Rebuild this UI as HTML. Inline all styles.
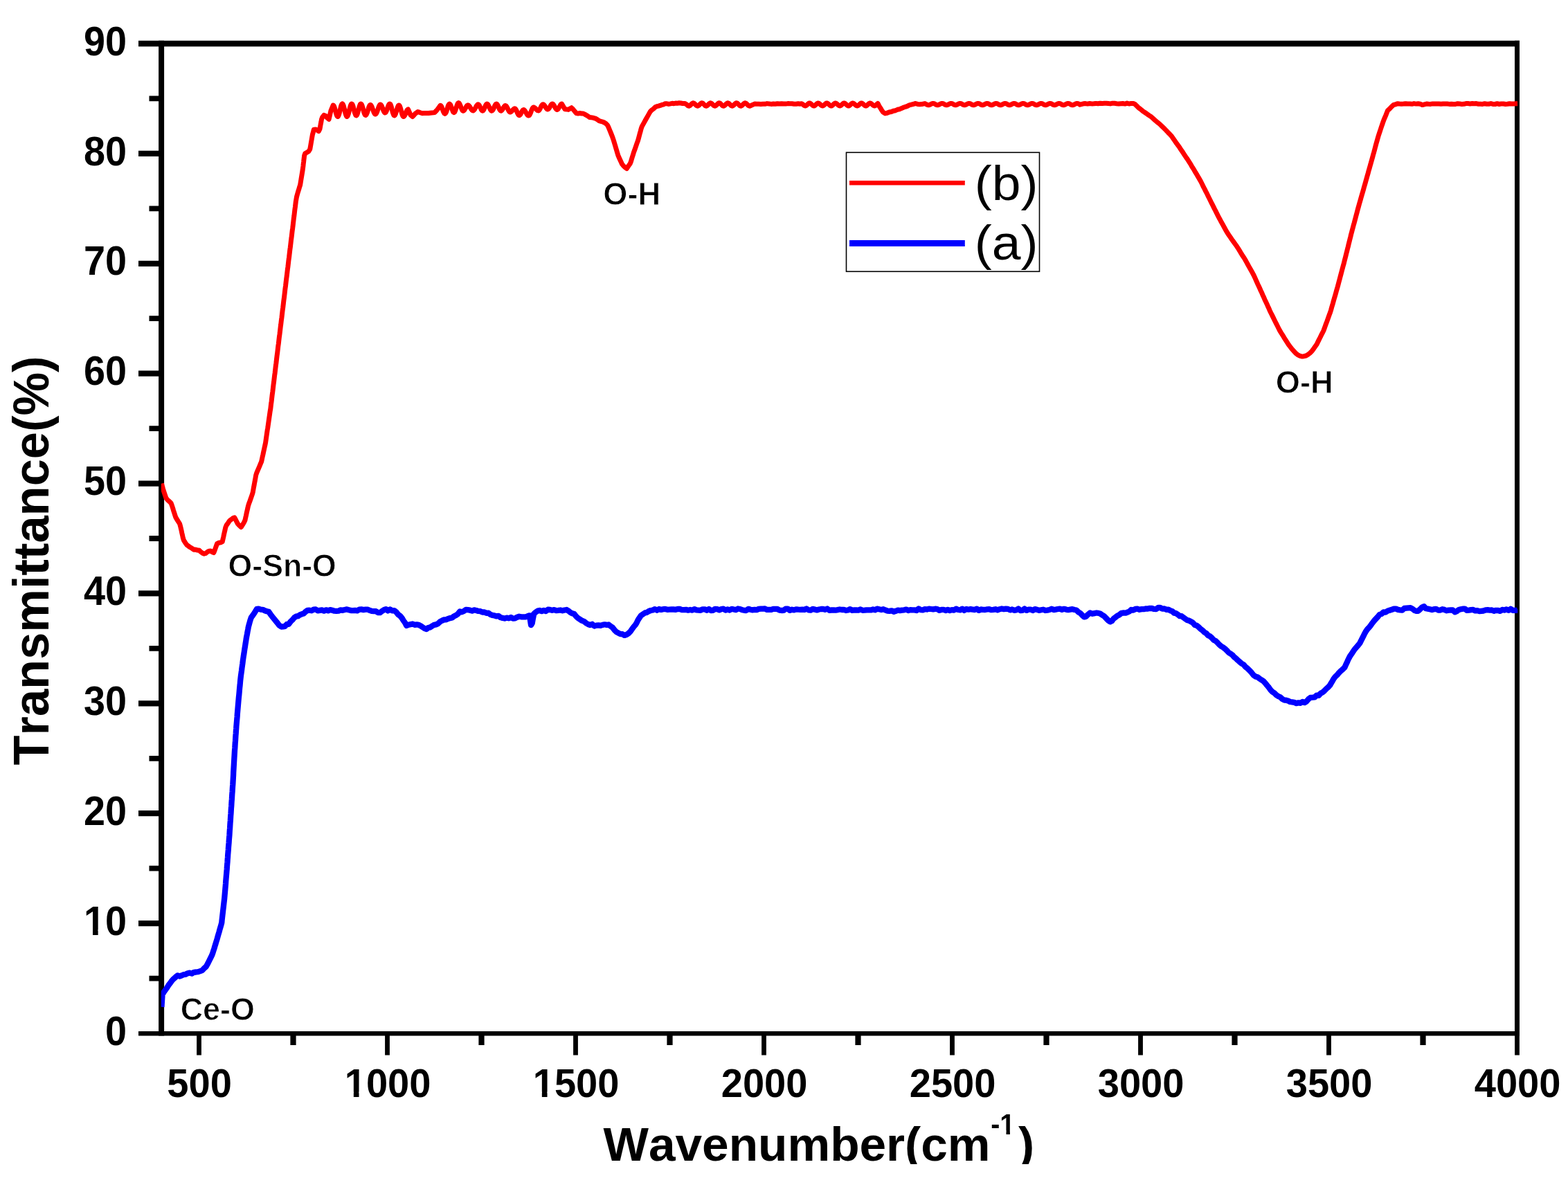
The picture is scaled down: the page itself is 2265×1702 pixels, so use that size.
<!DOCTYPE html>
<html lang="en"><head><meta charset="utf-8"><title>FTIR spectra</title>
<style>html,body{margin:0;padding:0;background:#fff}body{width:2265px;height:1702px;overflow:hidden}svg{display:block}text{font-kerning:none;font-family:"Liberation Sans",Arial,Helvetica,sans-serif;fill:#000}.b{font-weight:bold}</style></head><body>
<svg width="2265" height="1702" viewBox="0 0 2265 1702">
<rect width="2265" height="1702" fill="#fff"/>
<g stroke="#000" fill="none" stroke-linecap="butt">
<path d="M200.0 63.0 H2195.0" stroke-width="8.5"/>
<path d="M200.0 1493.3 H2195.0" stroke-width="6.6"/>
<path d="M233.1 58.8 V1496.6" stroke-width="8.0"/>
<path d="M2191.5 58.8 V1496.6" stroke-width="7.0"/>
<path d="M200.0 1334.1 H233.1 M200.0 1175.2 H233.1 M200.0 1016.3 H233.1 M200.0 857.4 H233.1 M200.0 698.6 H233.1 M200.0 539.7 H233.1 M200.0 380.8 H233.1 M200.0 221.9 H233.1" stroke-width="8.3"/>
<path d="M215.5 1413.6 H233.1 M215.5 1254.7 H233.1 M215.5 1095.8 H233.1 M215.5 936.9 H233.1 M215.5 778.0 H233.1 M215.5 619.1 H233.1 M215.5 460.2 H233.1 M215.5 301.3 H233.1 M215.5 142.4 H233.1" stroke-width="7.8"/>
<path d="M287.5 1493.0 V1524.5 M559.5 1493.0 V1524.5 M831.5 1493.0 V1524.5 M1103.5 1493.0 V1524.5 M1375.5 1493.0 V1524.5 M1647.5 1493.0 V1524.5 M1919.5 1493.0 V1524.5 M2191.5 1493.0 V1524.5" stroke-width="6.8"/>
<path d="M423.5 1493.0 V1510.0 M695.5 1493.0 V1510.0 M967.5 1493.0 V1510.0 M1239.5 1493.0 V1510.0 M1511.5 1493.0 V1510.0 M1783.5 1493.0 V1510.0 M2055.5 1493.0 V1510.0" stroke-width="8.2"/>
</g>
<g class="b" font-size="59.0" text-anchor="end">
<text transform="translate(183.0 1509.6) scale(0.945 1)">0</text>
<text transform="translate(183.0 1350.7) scale(0.945 1)">10</text>
<text transform="translate(183.0 1191.8) scale(0.945 1)">20</text>
<text transform="translate(183.0 1032.9) scale(0.945 1)">30</text>
<text transform="translate(183.0 874.0) scale(0.945 1)">40</text>
<text transform="translate(183.0 715.2) scale(0.945 1)">50</text>
<text transform="translate(183.0 556.3) scale(0.945 1)">60</text>
<text transform="translate(183.0 397.4) scale(0.945 1)">70</text>
<text transform="translate(183.0 238.5) scale(0.945 1)">80</text>
<text transform="translate(183.0 79.6) scale(0.945 1)">90</text>
</g>
<g class="b" font-size="57.5" text-anchor="middle">
<text transform="translate(288.1 1584.9) scale(0.975 1)">500</text>
<text transform="translate(560.1 1584.9) scale(0.975 1)">1000</text>
<text transform="translate(832.1 1584.9) scale(0.975 1)">1500</text>
<text transform="translate(1104.1 1584.9) scale(0.975 1)">2000</text>
<text transform="translate(1376.1 1584.9) scale(0.975 1)">2500</text>
<text transform="translate(1648.1 1584.9) scale(0.975 1)">3000</text>
<text transform="translate(1920.1 1584.9) scale(0.975 1)">3500</text>
<text transform="translate(2192.1 1584.9) scale(0.975 1)">4000</text>
</g>
<defs><clipPath id="cp"><rect x="232.8" y="0" width="1959.4" height="1702"/></clipPath></defs>
<g clip-path="url(#cp)" fill="none" stroke-linejoin="round" stroke-linecap="butt">
<path d="M233.4 698.7 L234.4 702.5 L235.4 706.0 L236.5 709.5 L237.6 712.8 L238.7 716.1 L239.8 719.4 L242.1 722.3 L244.6 724.5 L247.1 727.0 L248.4 730.5 L249.5 733.8 L250.5 737.3 L251.6 740.7 L252.7 744.1 L253.8 747.4 L255.7 750.6 L257.6 753.7 L259.5 756.6 L260.5 760.0 L261.3 763.4 L262.1 766.8 L262.8 770.2 L263.6 773.6 L264.3 777.1 L265.3 780.3 L267.5 783.9 L269.7 787.1 L272.2 789.0 L274.8 790.8 L277.4 792.3 L280.0 794.2 L282.5 794.0 L285.0 794.9 L287.5 794.9 L289.9 797.2 L292.3 799.0 L294.7 800.2 L297.1 799.5 L299.4 797.6 L301.7 796.2 L304.3 796.0 L306.5 797.5 L308.8 798.6 L310.0 795.4 L311.2 792.1 L312.4 788.8 L313.6 785.5 L316.2 784.3 L318.8 783.8 L321.2 782.6 L322.0 779.1 L322.8 775.7 L323.5 772.3 L324.3 768.8 L325.1 765.4 L325.8 762.0 L327.1 758.9 L329.5 755.6 L331.9 752.1 L334.3 750.4 L336.5 748.6 L338.8 747.8 L340.3 750.7 L341.9 753.8 L343.5 756.9 L345.8 759.3 L348.3 761.5 L350.8 757.6 L352.5 754.8 L354.0 751.5 L354.7 748.1 L355.5 744.7 L356.2 741.3 L357.0 737.8 L357.8 734.4 L358.5 731.0 L359.6 727.6 L360.8 724.4 L362.0 721.0 L363.1 717.8 L364.3 714.4 L365.3 711.0 L365.9 707.5 L366.5 704.0 L367.2 700.5 L367.8 697.0 L368.5 693.5 L369.1 690.0 L369.7 686.5 L370.8 683.2 L372.2 679.9 L373.6 676.6 L374.9 673.6 L376.3 670.2 L377.6 667.1 L378.4 663.6 L379.1 660.1 L379.9 656.7 L380.6 653.3 L381.4 649.8 L382.1 646.4 L382.9 642.9 L383.6 639.5 L384.1 636.0 L384.6 632.5 L385.1 629.0 L385.6 625.5 L386.1 622.0 L386.7 618.5 L387.2 615.1 L387.7 611.6 L388.2 608.1 L388.7 604.6 L389.2 601.1 L389.7 597.6 L390.2 594.1 L390.8 590.6 L391.2 587.1 L391.6 583.6 L392.1 580.2 L392.5 576.7 L392.9 573.2 L393.3 569.7 L393.8 566.2 L394.2 562.8 L394.6 559.3 L395.0 555.8 L395.5 552.3 L395.9 548.9 L396.3 545.4 L396.7 541.9 L397.2 538.4 L397.6 534.9 L398.0 531.4 L398.4 528.0 L398.9 524.5 L399.3 521.0 L399.7 517.5 L400.1 514.1 L400.6 510.6 L401.0 507.1 L401.4 503.6 L401.8 500.1 L402.3 496.7 L402.7 493.2 L403.1 489.7 L403.5 486.2 L404.0 482.7 L404.4 479.3 L404.8 475.8 L405.2 472.3 L405.7 468.8 L406.1 465.3 L406.5 461.9 L407.0 458.4 L407.4 454.9 L407.8 451.4 L408.2 447.9 L408.7 444.5 L409.1 441.0 L409.5 437.5 L409.9 434.0 L410.4 430.6 L410.8 427.1 L411.2 423.6 L411.6 420.1 L412.0 416.7 L412.5 413.2 L412.9 409.7 L413.3 406.2 L413.7 402.8 L414.2 399.3 L414.6 395.8 L415.0 392.3 L415.4 388.8 L415.9 385.4 L416.3 381.9 L416.7 378.4 L417.1 374.9 L417.6 371.5 L418.0 368.0 L418.4 364.5 L418.8 361.0 L419.3 357.5 L419.7 354.1 L420.1 350.6 L420.5 347.1 L421.0 343.6 L421.4 340.2 L421.8 336.7 L422.2 333.2 L422.7 329.7 L423.1 326.3 L423.5 322.8 L423.9 319.3 L424.3 315.8 L424.8 312.3 L425.2 308.9 L425.6 305.4 L426.0 301.9 L426.5 298.4 L426.9 295.0 L427.3 291.5 L427.9 288.0 L428.5 284.5 L429.4 281.1 L430.4 277.6 L431.5 274.2 L432.5 270.7 L433.6 267.3 L434.1 264.3 L434.6 261.2 L435.1 258.2 L435.6 255.2 L436.1 252.2 L436.6 249.1 L437.1 246.1 L437.5 243.1 L437.9 240.1 L438.2 237.1 L438.6 234.1 L438.9 231.0 L439.3 228.0 L439.6 225.0 L440.7 221.8 L443.3 220.3 L445.8 218.8 L447.8 215.4 L448.4 212.0 L449.0 208.5 L449.6 205.0 L450.2 201.5 L450.8 198.0 L451.4 194.5 L452.4 191.0 L453.3 187.2 L456.0 186.9 L458.2 188.1 L460.4 189.6 L461.9 186.5 L462.6 183.0 L463.2 179.5 L463.9 176.0 L464.5 172.5 L465.8 169.1 L468.0 166.4 L470.5 167.5 L472.9 170.6 L475.1 172.3 L476.0 168.5 L476.8 165.0 L477.6 161.5 L478.0 159.8 L481.2 152.0 L482.1 152.6 L482.9 154.4 L483.7 157.1 L484.6 160.2 L485.4 163.4 L486.2 166.1 L487.0 167.9 L487.9 168.5 L488.7 167.8 L489.5 165.8 L490.4 162.8 L491.2 159.2 L492.0 155.7 L492.8 152.7 L493.7 150.7 L494.5 150.0 L495.3 150.7 L496.2 152.7 L497.0 155.7 L497.9 159.2 L498.7 162.8 L499.6 165.8 L500.4 167.8 L501.2 168.5 L502.1 167.8 L502.9 165.8 L503.8 162.8 L504.6 159.2 L505.5 155.7 L506.3 152.7 L507.2 150.7 L508.0 150.0 L508.8 150.6 L509.7 152.5 L510.5 155.2 L511.3 158.5 L512.1 161.8 L513.0 164.5 L513.8 166.4 L514.6 167.0 L515.5 166.4 L516.3 164.5 L517.1 161.8 L517.9 158.5 L518.8 155.2 L519.6 152.5 L520.4 150.6 L521.2 150.0 L522.1 150.6 L523.0 152.4 L523.8 155.1 L524.7 158.2 L525.5 161.4 L526.4 164.1 L527.3 165.9 L528.1 166.5 L529.0 165.9 L529.8 164.3 L530.7 161.9 L531.6 159.0 L532.4 156.1 L533.3 153.7 L534.1 152.1 L535.0 151.5 L535.8 151.9 L536.6 153.1 L537.4 154.9 L538.2 157.1 L539.0 159.4 L539.8 161.6 L540.6 163.4 L541.4 164.6 L542.2 165.0 L543.1 164.6 L543.9 163.4 L544.7 161.5 L545.5 159.2 L546.3 156.8 L547.1 154.5 L547.9 152.6 L548.7 151.4 L549.5 151.0 L550.3 151.5 L551.2 152.8 L552.0 154.7 L552.9 157.0 L553.7 159.3 L554.6 161.2 L555.4 162.5 L556.2 163.0 L557.1 162.5 L557.9 161.1 L558.8 159.0 L559.6 156.5 L560.5 154.0 L561.3 151.9 L562.2 150.5 L563.0 150.0 L563.8 150.6 L564.7 152.5 L565.5 155.2 L566.3 158.5 L567.1 161.8 L568.0 164.5 L568.8 166.4 L569.6 167.0 L570.5 166.4 L571.3 164.8 L572.1 162.4 L572.9 159.5 L573.8 156.6 L574.6 154.2 L575.4 152.6 L576.2 152.0 L577.1 152.6 L577.9 154.4 L578.7 157.1 L579.6 160.2 L580.4 163.4 L581.2 166.1 L582.0 167.9 L582.9 168.5 L583.7 168.1 L584.5 167.0 L585.4 165.3 L586.2 163.2 L587.0 161.2 L587.8 159.5 L588.7 158.4 L589.5 158.0 L593.0 166.0 L596.0 168.5 L597.3 167.0 L598.7 165.5 L600.0 164.0 L601.8 162.8 L603.5 161.5 L605.7 162.2 L607.8 163.0 L610.0 163.7 L612.2 163.6 L614.5 163.6 L616.8 163.6 L619.0 163.5 L621.2 163.2 L623.5 163.0 L625.8 162.8 L628.0 162.5 L629.3 161.0 L630.7 159.5 L632.0 158.0 L636.1 152.3 L636.9 152.8 L637.8 154.1 L638.6 156.0 L639.4 158.3 L640.2 160.7 L641.1 162.6 L641.9 163.9 L642.7 164.4 L643.5 163.9 L644.4 162.3 L645.2 160.0 L646.0 157.2 L646.8 154.5 L647.6 152.2 L648.5 150.6 L649.3 150.1 L650.1 150.6 L650.9 151.9 L651.7 154.0 L652.5 156.3 L653.4 158.7 L654.2 160.8 L655.0 162.1 L655.8 162.6 L656.6 162.1 L657.4 160.5 L658.2 158.3 L659.0 155.6 L659.9 152.9 L660.7 150.7 L661.5 149.1 L662.3 148.6 L663.1 149.0 L664.0 150.3 L664.8 152.2 L665.7 154.4 L666.5 156.6 L667.4 158.5 L668.2 159.8 L669.1 160.2 L669.9 159.9 L670.8 159.0 L671.6 157.6 L672.5 156.1 L673.3 154.5 L674.2 153.1 L675.0 152.2 L675.9 151.9 L676.7 152.1 L677.5 152.8 L678.4 153.9 L679.2 155.2 L680.0 156.6 L680.8 157.9 L681.7 159.0 L682.5 159.7 L683.3 159.9 L684.1 159.6 L684.9 158.8 L685.8 157.6 L686.6 156.1 L687.4 154.6 L688.2 153.1 L689.1 151.9 L689.9 151.1 L690.7 150.8 L691.6 151.3 L692.5 152.6 L693.4 154.5 L694.4 156.5 L695.3 158.4 L696.2 159.7 L697.1 160.2 L698.0 159.7 L698.9 158.3 L699.8 156.3 L700.8 154.0 L701.7 152.0 L702.6 150.6 L703.5 150.1 L704.4 150.5 L705.2 151.6 L706.0 153.2 L706.9 155.1 L707.8 157.1 L708.6 158.7 L709.4 159.8 L710.3 160.2 L711.1 159.8 L712.0 158.7 L712.9 157.1 L713.7 155.2 L714.5 153.2 L715.4 151.6 L716.2 150.5 L717.1 150.1 L717.9 150.5 L718.7 151.6 L719.5 153.2 L720.4 155.1 L721.2 157.1 L722.0 158.7 L722.8 159.8 L723.6 160.2 L724.4 159.9 L725.2 159.1 L726.0 157.9 L726.9 156.4 L727.7 154.9 L728.5 153.7 L729.3 152.9 L730.1 152.6 L731.0 153.0 L731.8 154.0 L732.7 155.5 L733.5 157.3 L734.4 159.1 L735.2 160.6 L736.1 161.6 L736.9 162.0 L737.8 161.8 L738.6 161.2 L739.5 160.4 L740.3 159.4 L741.2 158.4 L742.0 157.6 L742.9 157.0 L743.7 156.8 L744.6 157.3 L745.5 158.7 L746.4 160.6 L747.3 162.9 L748.2 164.8 L749.1 166.2 L750.0 166.7 L750.9 166.3 L751.8 165.2 L752.7 163.6 L753.6 161.7 L754.5 160.1 L755.4 159.0 L756.3 158.6 L757.1 158.9 L757.9 159.6 L758.7 160.7 L759.5 162.1 L760.3 163.6 L761.1 165.0 L761.9 166.1 L762.7 166.8 L763.5 167.1 L764.4 166.7 L765.2 165.7 L766.0 164.1 L766.8 162.1 L767.6 160.0 L768.4 158.0 L769.2 156.4 L770.0 155.4 L770.8 155.0 L771.6 155.2 L772.5 155.7 L773.3 156.5 L774.2 157.4 L775.0 158.4 L775.9 159.2 L776.7 159.7 L777.6 159.9 L778.4 159.6 L779.3 158.6 L780.1 157.1 L781.0 155.4 L781.8 153.6 L782.7 152.1 L783.5 151.1 L784.4 150.8 L785.2 151.1 L786.1 151.9 L786.9 153.0 L787.8 154.4 L788.6 155.8 L789.5 156.9 L790.3 157.7 L791.1 158.0 L792.0 157.7 L792.8 156.8 L793.7 155.6 L794.5 154.1 L795.4 152.5 L796.2 151.3 L797.1 150.4 L797.9 150.1 L798.8 150.4 L799.6 151.3 L800.5 152.7 L801.3 154.2 L802.1 155.8 L803.0 157.2 L803.9 158.1 L804.7 158.4 L805.6 158.1 L806.4 157.2 L807.2 155.8 L808.1 154.2 L809.0 152.7 L809.8 151.3 L810.6 150.4 L811.5 150.1 L816.0 157.7 L818.5 157.9 L821.0 158.4 L823.2 157.0 L825.5 155.7 L827.8 157.9 L830.2 160.9 L832.6 163.6 L835.0 164.1 L837.5 163.5 L840.0 164.0 L842.4 164.0 L844.7 165.2 L846.9 166.4 L849.2 167.7 L851.5 169.4 L854.0 169.7 L856.5 170.1 L858.9 170.8 L861.1 171.6 L863.3 173.0 L865.5 174.6 L868.0 175.3 L870.5 176.0 L872.8 177.0 L875.2 178.5 L877.6 180.9 L879.1 184.1 L880.4 187.3 L881.8 190.6 L883.1 193.9 L884.4 197.1 L885.6 200.5 L886.7 203.9 L887.7 207.2 L888.7 210.6 L889.7 214.0 L890.7 217.3 L891.7 220.7 L892.7 224.1 L894.0 227.3 L895.5 230.5 L897.0 233.7 L898.4 236.9 L900.8 239.9 L903.1 241.9 L905.3 243.6 L907.8 239.8 L910.2 236.5 L911.4 233.4 L912.4 230.0 L913.4 226.7 L914.5 223.3 L915.5 220.0 L916.7 216.8 L917.9 213.3 L919.0 210.1 L920.2 206.7 L921.4 203.5 L922.4 200.0 L923.3 196.6 L924.2 193.1 L925.2 189.7 L926.1 186.2 L927.2 182.9 L929.0 179.6 L930.8 176.4 L932.5 173.3 L934.2 170.3 L936.0 167.1 L937.8 163.9 L939.6 160.8 L941.9 158.7 L944.2 157.0 L946.5 154.7 L949.0 153.6 L951.3 153.1 L953.7 152.4 L956.1 151.4 L958.5 151.0 L961.0 149.7 L963.5 149.8 L966.0 150.4 L968.5 149.9 L971.0 149.3 L973.5 149.7 L976.0 149.1 L978.5 149.2 L981.0 148.8 L983.5 149.0 L986.0 149.5 L988.5 149.4 L990.0 149.9 L992.0 151.0 L993.0 152.1 L994.0 152.9 L995.0 153.2 L996.0 153.0 L997.0 152.3 L998.0 151.3 L999.0 150.2 L1000.0 149.3 L1001.0 148.8 L1002.0 148.9 L1003.0 149.5 L1004.0 150.5 L1005.0 151.5 L1006.0 152.5 L1007.0 153.1 L1008.0 153.2 L1009.0 152.7 L1010.0 151.8 L1011.0 150.7 L1012.0 149.7 L1013.0 149.0 L1014.0 148.8 L1015.0 149.1 L1016.0 149.9 L1017.0 151.0 L1018.0 152.1 L1019.0 152.9 L1020.0 153.2 L1021.0 153.0 L1022.0 152.3 L1023.0 151.3 L1024.0 150.2 L1025.0 149.3 L1026.0 148.8 L1027.0 148.9 L1028.0 149.5 L1029.0 150.5 L1030.0 151.5 L1031.0 152.5 L1032.0 153.1 L1033.0 153.2 L1034.0 152.7 L1035.0 151.8 L1036.0 150.7 L1037.0 149.7 L1038.0 149.0 L1039.0 148.8 L1040.0 149.1 L1041.0 149.9 L1042.0 151.0 L1043.0 152.1 L1044.0 152.9 L1045.0 153.2 L1046.0 153.0 L1047.0 152.3 L1048.0 151.3 L1049.0 150.2 L1050.0 149.3 L1051.0 148.8 L1052.0 148.9 L1053.0 149.5 L1054.0 150.5 L1055.0 151.5 L1056.0 152.5 L1057.0 153.1 L1058.0 153.2 L1059.0 152.7 L1060.0 151.8 L1061.0 150.7 L1062.0 149.7 L1063.0 149.0 L1064.0 148.8 L1065.0 149.1 L1066.0 149.9 L1067.0 151.0 L1068.0 152.1 L1069.0 152.9 L1070.0 153.2 L1071.0 153.0 L1072.0 152.3 L1073.0 151.3 L1074.0 150.2 L1075.0 149.3 L1076.0 148.8 L1077.0 148.9 L1078.0 149.5 L1079.0 150.5 L1080.0 151.5 L1081.0 152.5 L1082.0 153.1 L1083.0 153.2 L1090.0 150.1 L1093.0 150.2 L1096.0 150.2 L1099.0 150.4 L1102.0 150.2 L1105.0 150.3 L1108.0 149.6 L1111.0 150.0 L1114.0 150.4 L1117.0 150.1 L1120.0 150.3 L1123.0 149.7 L1126.0 150.0 L1129.0 149.8 L1132.0 150.0 L1135.0 150.1 L1138.0 149.6 L1141.0 149.8 L1144.0 149.8 L1147.0 150.3 L1150.0 150.2 L1153.0 149.7 L1156.0 150.2 L1158.0 149.7 L1160.0 151.0 L1161.0 152.0 L1162.0 152.7 L1163.0 153.0 L1164.0 152.8 L1165.0 152.2 L1166.0 151.3 L1167.0 150.3 L1168.0 149.5 L1169.0 149.0 L1170.0 149.1 L1171.0 149.6 L1172.0 150.5 L1173.0 151.5 L1174.0 152.4 L1175.0 152.9 L1176.0 153.0 L1177.0 152.5 L1178.0 151.7 L1179.0 150.7 L1180.0 149.8 L1181.0 149.2 L1182.0 149.0 L1183.0 149.3 L1184.0 150.0 L1185.0 151.0 L1186.0 152.0 L1187.0 152.7 L1188.0 153.0 L1189.0 152.8 L1190.0 152.2 L1191.0 151.3 L1192.0 150.3 L1193.0 149.5 L1194.0 149.0 L1195.0 149.1 L1196.0 149.6 L1197.0 150.5 L1198.0 151.5 L1199.0 152.4 L1200.0 152.9 L1201.0 153.0 L1202.0 152.5 L1203.0 151.7 L1204.0 150.7 L1205.0 149.8 L1206.0 149.2 L1207.0 149.0 L1208.0 149.3 L1209.0 150.0 L1210.0 151.0 L1211.0 152.0 L1212.0 152.7 L1213.0 153.0 L1214.0 152.8 L1215.0 152.2 L1216.0 151.3 L1217.0 150.3 L1218.0 149.5 L1219.0 149.0 L1220.0 149.1 L1221.0 149.6 L1222.0 150.5 L1223.0 151.5 L1224.0 152.4 L1225.0 152.9 L1226.0 153.0 L1227.0 152.5 L1228.0 151.7 L1229.0 150.7 L1230.0 149.8 L1231.0 149.2 L1232.0 149.0 L1233.0 149.3 L1234.0 150.0 L1235.0 151.0 L1236.0 152.0 L1237.0 152.7 L1238.0 153.0 L1239.0 152.8 L1240.0 152.2 L1241.0 151.3 L1242.0 150.3 L1243.0 149.5 L1244.0 149.0 L1245.0 149.1 L1246.0 149.6 L1247.0 150.5 L1248.0 151.5 L1249.0 152.4 L1250.0 152.9 L1251.0 153.0 L1252.0 152.5 L1253.0 151.7 L1254.0 150.7 L1255.0 149.8 L1256.0 149.2 L1257.0 149.0 L1258.0 149.3 L1259.0 150.0 L1260.0 151.0 L1261.0 152.0 L1262.0 152.7 L1263.0 153.0 L1264.0 152.8 L1265.0 152.2 L1266.0 151.3 L1267.0 150.3 L1268.0 149.5 L1270.0 153.3 L1271.8 156.1 L1273.5 159.1 L1275.6 162.1 L1278.5 163.9 L1281.5 163.3 L1284.5 162.0 L1287.5 161.5 L1290.5 160.2 L1293.5 159.7 L1296.5 158.3 L1299.4 157.7 L1302.2 156.6 L1305.1 155.3 L1307.9 154.3 L1310.7 153.4 L1313.5 151.9 L1316.5 151.2 L1319.5 150.3 L1322.5 149.5 L1325.5 150.4 L1328.5 150.7 L1331.5 150.6 L1334.5 149.9 L1336.0 149.6 L1338.0 150.6 L1339.0 151.2 L1340.0 151.6 L1341.0 151.8 L1342.0 151.7 L1343.0 151.4 L1344.0 150.9 L1345.0 150.3 L1346.0 149.8 L1347.0 149.5 L1348.0 149.4 L1349.0 149.6 L1350.0 150.0 L1351.0 150.6 L1352.0 151.2 L1353.0 151.6 L1354.0 151.8 L1355.0 151.7 L1356.0 151.4 L1357.0 150.9 L1358.0 150.3 L1359.0 149.8 L1360.0 149.5 L1361.0 149.4 L1362.0 149.6 L1363.0 150.0 L1364.0 150.6 L1365.0 151.2 L1366.0 151.6 L1367.0 151.8 L1368.0 151.7 L1369.0 151.4 L1370.0 150.9 L1371.0 150.3 L1372.0 149.8 L1373.0 149.5 L1374.0 149.4 L1375.0 149.6 L1376.0 150.0 L1377.0 150.6 L1378.0 151.2 L1379.0 151.6 L1380.0 151.8 L1381.0 151.7 L1382.0 151.4 L1383.0 150.9 L1384.0 150.3 L1385.0 149.8 L1386.0 149.5 L1387.0 149.4 L1388.0 149.6 L1389.0 150.0 L1390.0 150.6 L1391.0 151.2 L1392.0 151.6 L1393.0 151.8 L1394.0 151.7 L1395.0 151.4 L1396.0 150.9 L1397.0 150.3 L1398.0 149.8 L1399.0 149.5 L1400.0 149.4 L1401.0 149.6 L1402.0 150.0 L1403.0 150.6 L1404.0 151.2 L1405.0 151.6 L1406.0 151.8 L1407.0 151.7 L1408.0 151.4 L1409.0 150.9 L1410.0 150.3 L1411.0 149.8 L1412.0 149.5 L1413.0 149.4 L1414.0 149.6 L1415.0 150.0 L1416.0 150.6 L1417.0 151.2 L1418.0 151.6 L1419.0 151.8 L1420.0 151.7 L1421.0 151.4 L1422.0 150.9 L1423.0 150.3 L1424.0 149.8 L1425.0 149.5 L1426.0 149.4 L1427.0 149.6 L1428.0 150.0 L1429.0 150.6 L1430.0 151.2 L1431.0 151.6 L1432.0 151.8 L1433.0 151.7 L1434.0 151.4 L1435.0 150.9 L1436.0 150.3 L1437.0 149.8 L1438.0 149.5 L1439.0 149.4 L1440.0 149.6 L1441.0 150.0 L1442.0 150.6 L1443.0 151.2 L1444.0 151.6 L1445.0 151.8 L1446.0 151.7 L1447.0 151.4 L1448.0 150.9 L1449.0 150.3 L1450.0 149.8 L1451.0 149.5 L1452.0 149.4 L1453.0 149.6 L1454.0 150.0 L1455.0 150.6 L1456.0 151.2 L1457.0 151.6 L1458.0 151.8 L1459.0 151.7 L1460.0 151.4 L1461.0 150.9 L1462.0 150.3 L1463.0 149.8 L1464.0 149.5 L1465.0 149.4 L1466.0 149.6 L1467.0 150.0 L1468.0 150.6 L1469.0 151.2 L1470.0 151.6 L1471.0 151.8 L1472.0 151.7 L1473.0 151.4 L1474.0 150.9 L1475.0 150.3 L1476.0 149.8 L1477.0 149.5 L1478.0 149.4 L1479.0 149.6 L1480.0 150.0 L1481.0 150.6 L1482.0 151.2 L1483.0 151.6 L1484.0 151.8 L1485.0 151.7 L1486.0 151.4 L1487.0 150.9 L1488.0 150.3 L1489.0 149.8 L1490.0 149.5 L1491.0 149.4 L1492.0 149.6 L1493.0 150.0 L1494.0 150.6 L1495.0 151.2 L1496.0 151.6 L1497.0 151.8 L1498.0 151.7 L1499.0 151.4 L1500.0 150.9 L1501.0 150.3 L1502.0 149.8 L1503.0 149.5 L1504.0 149.4 L1505.0 149.6 L1506.0 150.0 L1507.0 150.6 L1508.0 151.2 L1509.0 151.6 L1510.0 151.8 L1511.0 151.7 L1512.0 151.4 L1513.0 150.9 L1514.0 150.3 L1515.0 149.8 L1516.0 149.5 L1517.0 149.4 L1518.0 149.6 L1519.0 150.0 L1520.0 150.6 L1521.0 151.2 L1522.0 151.6 L1523.0 151.8 L1524.0 151.7 L1525.0 151.4 L1526.0 150.9 L1527.0 150.3 L1528.0 149.8 L1529.0 149.5 L1530.0 149.4 L1531.0 149.6 L1532.0 150.0 L1533.0 150.6 L1534.0 151.2 L1535.0 151.6 L1536.0 151.8 L1537.0 151.7 L1538.0 151.4 L1539.0 150.9 L1540.0 150.3 L1541.0 149.8 L1542.0 149.5 L1543.0 149.4 L1544.0 149.6 L1545.0 150.0 L1546.0 150.6 L1547.0 151.2 L1548.0 151.6 L1549.0 151.8 L1550.0 151.7 L1551.0 151.4 L1552.0 150.9 L1553.0 150.3 L1554.0 149.8 L1555.0 149.5 L1556.0 149.4 L1557.0 149.6 L1558.0 150.0 L1559.0 150.6 L1560.0 151.2 L1565.0 149.8 L1568.0 149.6 L1571.0 150.1 L1574.0 149.5 L1577.0 149.9 L1580.0 149.7 L1583.0 149.4 L1586.0 149.8 L1589.0 149.3 L1592.0 149.6 L1595.0 149.2 L1598.0 149.2 L1601.0 149.5 L1604.0 149.9 L1607.0 149.2 L1610.0 149.3 L1613.0 149.7 L1616.0 150.0 L1619.0 149.7 L1622.0 149.5 L1625.0 150.1 L1628.0 149.1 L1631.0 150.0 L1634.0 149.4 L1637.0 149.4 L1639.7 150.7 L1642.3 153.3 L1645.0 155.9 L1647.7 157.9 L1650.6 160.3 L1653.5 162.3 L1656.4 164.2 L1659.3 166.4 L1662.2 168.2 L1664.8 170.4 L1667.5 172.8 L1670.2 175.3 L1672.9 177.4 L1675.6 179.6 L1678.5 182.5 L1681.4 185.3 L1684.2 188.1 L1687.1 191.2 L1689.9 194.0 L1692.5 196.9 L1694.8 200.3 L1697.1 203.6 L1699.4 206.9 L1701.8 210.1 L1704.1 213.3 L1706.3 216.8 L1708.5 219.9 L1710.7 223.3 L1712.9 226.7 L1715.2 229.9 L1717.4 233.3 L1719.5 236.6 L1721.3 239.8 L1723.2 242.8 L1725.0 245.8 L1726.8 248.9 L1728.6 251.8 L1730.4 254.9 L1732.2 257.9 L1733.9 260.9 L1735.5 264.0 L1737.1 267.2 L1738.6 270.4 L1740.2 273.4 L1741.8 276.6 L1743.4 279.6 L1744.9 282.9 L1746.5 286.0 L1748.1 289.2 L1749.6 292.3 L1751.2 295.4 L1752.8 298.6 L1754.4 301.9 L1756.0 304.9 L1757.6 308.2 L1759.2 311.3 L1760.8 314.5 L1762.5 317.5 L1764.2 320.8 L1765.9 323.7 L1767.6 326.9 L1769.3 330.0 L1771.0 333.2 L1772.8 336.1 L1775.0 339.5 L1777.3 342.8 L1779.6 346.2 L1781.9 349.4 L1784.3 352.7 L1786.5 355.8 L1788.7 359.2 L1790.8 362.6 L1792.9 366.2 L1795.0 369.6 L1797.2 372.8 L1799.0 375.8 L1800.7 378.9 L1802.4 382.0 L1804.1 385.1 L1805.9 388.3 L1807.6 391.3 L1809.3 394.3 L1811.0 397.5 L1812.5 400.7 L1813.9 403.9 L1815.4 407.2 L1816.8 410.4 L1818.3 413.5 L1819.8 416.8 L1821.2 420.0 L1822.7 423.1 L1824.1 426.4 L1825.6 429.6 L1827.0 432.9 L1828.5 436.1 L1830.0 439.2 L1831.4 442.4 L1832.9 445.6 L1834.3 448.9 L1835.8 452.0 L1837.4 455.1 L1839.0 458.4 L1840.5 461.5 L1842.1 464.7 L1843.7 467.9 L1845.3 471.0 L1846.9 474.2 L1848.5 477.4 L1850.6 480.9 L1852.8 484.2 L1854.9 487.8 L1857.0 491.1 L1859.1 494.4 L1861.3 497.8 L1863.7 501.0 L1866.1 504.2 L1868.8 507.1 L1871.6 510.3 L1874.5 512.6 L1877.5 514.1 L1880.5 515.0 L1883.5 514.7 L1886.5 514.0 L1889.5 512.2 L1892.4 510.0 L1895.2 507.1 L1897.8 503.6 L1900.1 500.3 L1902.2 497.2 L1903.8 493.9 L1905.4 490.6 L1907.0 487.5 L1908.6 484.2 L1910.2 481.1 L1911.8 478.0 L1913.0 474.7 L1914.2 471.4 L1915.4 468.0 L1916.7 464.7 L1917.9 461.3 L1919.1 458.1 L1920.3 454.7 L1921.5 451.5 L1922.6 448.0 L1923.5 444.6 L1924.5 441.3 L1925.5 437.9 L1926.4 434.5 L1927.4 431.1 L1928.4 427.7 L1929.4 424.3 L1930.3 420.8 L1931.3 417.4 L1932.3 414.0 L1933.2 410.6 L1934.1 407.2 L1935.0 403.8 L1935.9 400.4 L1936.8 397.0 L1937.7 393.6 L1938.6 390.2 L1939.5 386.8 L1940.4 383.4 L1941.4 380.0 L1942.2 376.5 L1943.1 373.1 L1944.0 369.7 L1944.8 366.3 L1945.7 362.8 L1946.5 359.5 L1947.4 356.1 L1948.2 352.6 L1949.1 349.2 L1949.9 345.8 L1950.8 342.4 L1951.6 338.9 L1952.5 335.6 L1953.4 332.2 L1954.3 328.8 L1955.2 325.3 L1956.2 321.9 L1957.1 318.5 L1958.0 315.1 L1958.9 311.7 L1959.8 308.3 L1960.7 304.9 L1961.6 301.5 L1962.6 298.0 L1963.5 294.7 L1964.5 291.3 L1965.5 287.8 L1966.4 284.4 L1967.4 281.0 L1968.4 277.7 L1969.4 274.3 L1970.3 270.8 L1971.3 267.5 L1972.3 264.1 L1973.2 260.7 L1974.2 257.3 L1975.1 253.9 L1976.1 250.5 L1977.0 247.1 L1978.0 243.8 L1978.9 240.4 L1979.9 237.1 L1980.8 233.7 L1981.8 230.3 L1982.7 227.0 L1983.6 223.6 L1984.6 220.2 L1985.5 216.8 L1986.4 213.4 L1987.3 210.0 L1988.2 206.7 L1989.2 203.3 L1990.1 199.9 L1991.1 196.5 L1992.2 193.2 L1993.3 189.8 L1994.4 186.5 L1995.5 183.1 L1996.7 179.8 L1997.8 176.4 L1999.0 173.2 L2000.4 169.8 L2001.8 166.6 L2003.1 163.3 L2004.5 159.8 L2007.4 157.1 L2010.2 154.1 L2012.9 151.7 L2015.6 150.9 L2018.5 149.7 L2021.5 150.0 L2024.5 150.2 L2027.5 150.1 L2030.5 149.8 L2033.5 150.0 L2036.5 150.1 L2039.5 150.3 L2042.5 149.6 L2045.5 150.1 L2048.5 149.7 L2051.5 150.2 L2054.5 151.6 L2057.5 150.8 L2060.5 150.1 L2063.5 150.3 L2066.5 150.4 L2069.5 149.9 L2072.5 150.1 L2075.5 150.0 L2078.5 150.0 L2081.5 150.2 L2084.5 150.0 L2087.5 150.0 L2090.5 150.0 L2093.6 150.4 L2096.6 150.2 L2099.6 150.4 L2102.6 150.4 L2105.6 149.8 L2108.6 150.1 L2111.6 150.4 L2114.6 150.3 L2117.6 149.6 L2120.6 149.6 L2123.6 149.9 L2126.6 149.6 L2129.6 149.7 L2132.6 149.6 L2135.6 150.2 L2138.6 150.3 L2141.6 150.4 L2144.6 149.7 L2147.6 150.2 L2150.6 150.2 L2153.6 149.6 L2156.6 150.4 L2159.7 150.5 L2162.7 149.7 L2165.7 150.5 L2168.7 149.9 L2171.7 150.0 L2174.7 150.5 L2177.7 150.3 L2180.7 149.7 L2183.7 149.9 L2186.7 150.0 L2189.7 149.8 L2192.2 149.7" stroke="#ff0000" stroke-width="7.0"/>
<path d="M233.4 1454.9 L233.6 1452.0 L233.8 1449.0 L234.0 1446.0 L234.2 1442.9 L234.4 1439.9 L234.6 1436.8 L236.6 1433.5 L238.9 1430.4 L241.2 1427.2 L243.5 1423.4 L245.9 1420.3 L248.3 1416.9 L250.7 1414.4 L253.6 1411.8 L256.5 1409.4 L259.3 1410.5 L262.2 1409.5 L265.1 1408.2 L268.1 1407.8 L271.1 1406.3 L274.1 1405.6 L277.1 1406.6 L280.1 1404.8 L283.1 1404.5 L286.2 1404.1 L289.2 1403.1 L292.0 1402.1 L294.8 1399.2 L297.6 1396.7 L299.7 1393.0 L301.3 1389.9 L302.9 1386.7 L304.4 1383.6 L306.0 1380.4 L307.3 1377.0 L308.3 1373.8 L309.4 1370.5 L310.4 1367.0 L311.5 1363.6 L312.5 1360.2 L313.6 1356.8 L314.5 1353.4 L315.5 1349.9 L316.5 1346.6 L317.4 1343.1 L318.4 1339.8 L319.4 1336.3 L320.3 1332.9 L320.6 1329.4 L321.0 1325.9 L321.4 1322.4 L321.8 1319.0 L322.2 1315.4 L322.6 1312.0 L323.0 1308.5 L323.4 1305.0 L323.8 1301.5 L324.2 1298.0 L324.5 1294.5 L324.8 1291.0 L325.1 1287.5 L325.4 1284.0 L325.7 1280.5 L326.0 1277.0 L326.2 1273.5 L326.5 1270.0 L326.8 1266.5 L327.1 1263.0 L327.4 1259.5 L327.7 1256.0 L327.9 1252.5 L328.2 1249.0 L328.5 1245.5 L328.7 1242.0 L329.0 1238.5 L329.2 1235.0 L329.5 1231.5 L329.8 1228.0 L330.0 1224.5 L330.3 1221.0 L330.6 1217.5 L330.8 1214.0 L331.1 1210.5 L331.4 1207.0 L331.6 1203.5 L331.8 1200.0 L332.1 1196.5 L332.3 1193.0 L332.5 1189.5 L332.8 1186.0 L333.0 1182.5 L333.2 1179.0 L333.5 1175.5 L333.7 1172.0 L333.9 1168.5 L334.2 1165.0 L334.4 1161.5 L334.6 1158.0 L334.9 1154.5 L335.1 1151.0 L335.3 1147.5 L335.6 1144.0 L335.8 1140.5 L336.0 1137.0 L336.3 1133.5 L336.5 1130.0 L336.7 1126.5 L336.9 1123.0 L337.1 1119.5 L337.2 1116.0 L337.4 1112.5 L337.6 1109.0 L337.8 1105.5 L338.0 1102.0 L338.2 1098.5 L338.4 1095.0 L338.6 1091.5 L338.8 1088.0 L339.0 1084.5 L339.3 1081.0 L339.5 1077.5 L339.7 1074.0 L340.0 1070.5 L340.2 1067.0 L340.4 1063.5 L340.7 1060.0 L340.9 1056.5 L341.2 1053.0 L341.4 1049.5 L341.7 1046.0 L342.0 1042.5 L342.3 1039.0 L342.6 1035.5 L342.8 1032.0 L343.1 1028.5 L343.4 1025.0 L343.7 1021.5 L344.0 1018.0 L344.3 1014.5 L344.6 1011.0 L344.9 1007.5 L345.3 1004.0 L345.6 1000.5 L345.9 997.0 L346.2 993.5 L346.6 990.0 L346.9 986.5 L347.2 983.0 L347.6 979.5 L348.0 976.0 L348.5 972.5 L349.0 969.0 L349.4 965.5 L349.9 962.0 L350.4 958.5 L350.8 955.0 L351.3 951.5 L351.8 948.0 L352.4 944.5 L352.9 941.0 L353.4 937.5 L354.0 934.0 L354.5 930.5 L355.1 927.0 L355.6 923.5 L356.2 920.0 L356.9 916.5 L357.5 913.0 L358.2 909.5 L358.8 906.0 L359.7 902.6 L360.7 899.0 L361.7 895.5 L362.8 892.3 L365.2 889.1 L367.6 885.4 L369.4 882.6 L371.0 879.8 L373.7 879.6 L376.6 880.6 L379.5 880.8 L382.5 882.3 L385.5 883.3 L388.2 883.9 L390.8 887.7 L393.4 891.1 L395.9 894.1 L398.3 897.1 L400.7 900.0 L403.3 903.4 L406.2 905.5 L408.9 905.4 L411.6 904.9 L414.3 902.0 L417.0 901.9 L419.8 898.0 L422.4 895.7 L425.0 892.5 L427.7 890.6 L430.5 890.2 L433.2 888.4 L435.9 887.3 L438.6 886.6 L441.4 883.8 L444.1 881.8 L447.0 881.7 L450.0 882.3 L453.0 880.7 L456.0 880.4 L459.0 882.4 L462.0 881.9 L465.0 881.4 L468.0 882.7 L471.0 881.3 L474.0 882.3 L477.0 881.1 L480.0 881.8 L483.0 882.7 L486.0 882.9 L489.0 882.7 L492.0 881.3 L495.0 881.8 L498.0 881.0 L501.0 880.4 L504.0 881.3 L507.0 882.1 L510.0 882.2 L513.0 881.8 L516.0 882.4 L519.0 880.7 L522.0 880.4 L525.0 881.1 L528.0 880.7 L531.0 880.7 L534.0 881.8 L537.0 882.9 L540.0 883.1 L543.0 883.2 L546.0 885.1 L548.9 885.2 L551.8 883.0 L554.6 881.2 L557.5 880.1 L560.5 882.4 L563.5 880.4 L566.5 882.3 L569.5 882.1 L572.4 884.3 L575.2 887.8 L577.9 889.8 L580.6 893.0 L582.8 896.6 L585.0 899.6 L587.2 903.9 L590.0 902.8 L593.0 902.1 L596.0 901.5 L599.0 902.8 L602.0 902.4 L605.0 902.8 L607.7 904.3 L610.4 906.1 L613.1 907.9 L615.8 909.0 L618.6 907.0 L621.4 906.4 L624.2 904.5 L627.0 902.9 L629.7 902.4 L632.7 901.1 L635.7 898.2 L638.7 896.6 L641.5 895.4 L644.4 895.3 L647.3 893.9 L650.2 893.1 L653.1 892.5 L655.8 890.4 L658.6 889.0 L661.4 887.1 L664.2 883.5 L667.0 884.3 L670.0 883.0 L673.0 880.8 L676.0 881.2 L679.0 881.7 L682.0 882.6 L685.0 881.4 L688.0 882.0 L691.0 882.9 L693.9 883.2 L696.8 884.5 L699.7 884.4 L702.6 885.8 L705.5 885.7 L708.4 887.8 L711.2 888.9 L714.1 889.3 L717.0 890.4 L720.0 889.8 L723.0 892.1 L726.0 892.9 L729.0 893.5 L732.0 892.6 L735.0 893.3 L738.0 892.0 L741.0 893.6 L744.0 893.3 L747.0 891.7 L750.0 890.7 L753.0 891.3 L756.0 891.3 L759.0 891.4 L762.0 890.3 L765.0 889.3 L765.5 893.5 L766.1 897.0 L766.6 900.5 L767.1 903.2 L768.7 900.5 L769.3 897.1 L769.9 893.6 L770.6 890.2 L771.2 886.8 L774.0 884.4 L776.7 882.6 L779.5 882.0 L782.5 883.1 L785.5 881.9 L788.5 883.0 L791.5 880.7 L794.5 881.0 L797.5 881.8 L800.5 881.1 L803.5 882.2 L806.5 881.9 L809.5 881.5 L812.5 882.3 L815.5 881.5 L818.5 881.0 L821.2 882.6 L823.9 884.9 L826.6 886.3 L829.5 887.1 L832.2 890.5 L834.9 893.0 L837.6 894.7 L840.6 896.7 L843.6 897.8 L846.6 900.2 L849.6 902.0 L852.5 903.0 L855.5 901.8 L858.5 904.5 L861.5 903.6 L864.5 903.3 L867.5 903.9 L870.5 902.9 L873.5 902.3 L876.4 902.9 L879.2 902.5 L882.1 904.7 L884.8 906.7 L887.6 910.2 L890.5 913.1 L893.5 914.7 L896.3 916.1 L899.2 916.2 L902.0 917.9 L905.0 917.0 L908.0 915.0 L910.8 912.1 L913.2 908.7 L915.6 905.4 L918.0 902.6 L919.8 899.6 L921.5 896.0 L923.2 893.3 L925.9 889.4 L928.8 887.4 L931.8 885.4 L934.4 884.9 L937.3 883.0 L940.1 882.0 L943.0 881.5 L946.0 880.1 L949.0 881.7 L952.0 880.0 L955.0 880.9 L958.0 880.2 L961.0 880.0 L964.0 880.8 L967.0 880.6 L970.0 880.4 L973.0 880.5 L976.0 880.8 L979.0 879.9 L982.0 880.0 L985.0 881.1 L988.0 881.1 L991.0 880.8 L994.0 881.7 L997.0 881.0 L1000.0 881.7 L1003.0 880.1 L1006.0 881.4 L1009.0 881.6 L1012.0 881.8 L1015.0 880.3 L1018.0 880.3 L1021.0 881.8 L1024.0 880.0 L1027.0 882.0 L1030.0 881.8 L1033.0 879.8 L1036.0 880.1 L1039.0 881.3 L1042.0 880.1 L1045.0 879.7 L1048.0 881.6 L1051.0 880.5 L1054.0 881.5 L1057.0 879.8 L1060.0 880.5 L1063.0 881.2 L1066.0 879.5 L1069.0 880.0 L1072.0 881.2 L1075.0 881.8 L1078.0 882.0 L1081.0 879.8 L1084.0 880.8 L1087.0 881.4 L1090.0 880.8 L1093.0 881.2 L1096.0 879.9 L1099.0 879.6 L1102.0 879.7 L1105.0 879.5 L1108.0 880.9 L1111.0 880.8 L1114.0 880.9 L1117.0 879.8 L1120.0 879.9 L1123.0 880.0 L1126.0 881.6 L1129.0 882.0 L1132.0 881.9 L1135.0 879.7 L1138.0 879.6 L1141.0 881.9 L1144.0 880.7 L1147.0 881.4 L1150.0 880.3 L1153.0 880.7 L1156.0 880.8 L1159.0 880.6 L1162.0 881.0 L1165.0 879.5 L1168.0 881.3 L1171.0 881.6 L1174.0 879.9 L1177.0 880.6 L1180.0 881.4 L1183.0 880.5 L1186.0 880.0 L1189.0 879.9 L1192.0 880.8 L1195.0 879.5 L1198.0 881.8 L1201.0 881.5 L1204.0 881.3 L1207.0 881.7 L1210.0 881.1 L1213.0 880.5 L1216.0 881.0 L1219.0 880.8 L1222.0 882.0 L1225.0 881.5 L1228.0 880.1 L1231.0 881.8 L1234.0 881.4 L1237.0 881.5 L1240.0 881.6 L1243.0 880.5 L1246.0 881.8 L1249.0 881.7 L1252.0 881.3 L1255.0 881.4 L1258.0 881.4 L1261.0 880.5 L1264.0 881.3 L1267.0 879.6 L1270.0 880.3 L1273.0 881.0 L1276.0 880.2 L1279.0 881.5 L1282.0 882.6 L1285.0 882.9 L1288.0 882.3 L1291.0 883.8 L1294.0 882.8 L1297.0 881.7 L1300.0 882.2 L1303.0 881.7 L1306.0 881.3 L1309.0 880.6 L1312.0 882.0 L1315.0 881.1 L1318.0 881.3 L1321.0 881.4 L1324.0 882.0 L1327.0 879.5 L1330.0 881.1 L1333.0 881.4 L1336.0 880.1 L1339.0 880.5 L1342.0 879.6 L1345.0 880.0 L1348.0 880.4 L1351.0 879.7 L1354.0 880.1 L1357.0 881.8 L1360.0 880.9 L1363.0 880.8 L1366.0 882.0 L1369.0 880.9 L1372.0 882.0 L1375.0 881.1 L1378.0 881.6 L1381.0 879.6 L1384.0 881.0 L1387.0 881.4 L1390.0 879.6 L1393.0 881.9 L1396.0 879.9 L1399.0 880.7 L1402.0 879.9 L1405.0 880.7 L1408.0 881.0 L1411.0 879.6 L1414.0 881.9 L1417.0 880.5 L1420.0 880.8 L1423.0 881.0 L1426.0 880.4 L1429.0 880.2 L1432.0 881.2 L1435.0 880.9 L1438.0 880.2 L1441.0 881.3 L1444.0 880.2 L1447.0 879.5 L1450.0 880.1 L1453.0 879.6 L1456.0 879.9 L1459.0 881.4 L1462.0 880.5 L1465.0 881.8 L1468.0 881.4 L1471.0 879.6 L1474.0 882.0 L1477.0 881.9 L1480.0 879.6 L1483.0 881.8 L1486.0 880.6 L1489.0 880.7 L1492.0 882.0 L1495.0 880.1 L1498.0 880.8 L1501.0 881.9 L1504.0 881.3 L1507.0 880.7 L1510.0 882.0 L1513.0 881.6 L1516.0 881.0 L1519.0 879.7 L1522.0 881.1 L1525.0 880.6 L1528.0 880.0 L1531.0 879.6 L1534.0 880.8 L1537.0 879.8 L1540.0 880.6 L1543.0 881.2 L1546.0 880.6 L1549.0 880.1 L1552.0 881.0 L1554.8 881.5 L1557.7 884.3 L1560.6 886.0 L1563.3 888.9 L1566.1 891.4 L1568.9 890.7 L1571.8 887.7 L1574.8 885.4 L1577.8 886.8 L1580.9 886.1 L1584.0 885.5 L1586.8 885.9 L1589.7 886.8 L1592.5 888.8 L1595.3 890.6 L1598.1 893.5 L1601.0 896.5 L1603.7 898.4 L1606.3 897.0 L1608.6 893.9 L1611.3 891.9 L1614.0 889.8 L1617.0 888.3 L1620.0 885.8 L1623.0 885.5 L1626.0 885.7 L1628.6 884.6 L1631.3 883.5 L1634.0 881.0 L1637.0 881.6 L1640.0 880.0 L1643.0 879.7 L1646.0 880.8 L1649.0 880.1 L1652.0 880.2 L1655.0 879.4 L1658.0 879.6 L1661.0 878.8 L1664.0 879.0 L1667.0 879.9 L1670.0 880.1 L1673.0 878.0 L1676.0 878.0 L1679.0 879.6 L1682.0 879.4 L1684.8 880.8 L1687.7 880.6 L1690.5 882.2 L1693.3 883.1 L1696.0 885.6 L1698.7 886.1 L1701.5 888.0 L1704.2 890.1 L1706.9 890.2 L1709.5 892.2 L1712.2 894.1 L1714.8 896.0 L1717.5 896.6 L1720.1 898.0 L1723.0 899.6 L1725.9 903.0 L1728.7 903.8 L1731.5 906.0 L1734.4 908.9 L1737.2 910.9 L1739.8 913.5 L1742.5 915.1 L1745.2 918.1 L1747.9 919.3 L1750.6 921.7 L1753.3 924.7 L1756.0 926.0 L1758.7 928.6 L1761.4 931.5 L1764.1 933.7 L1766.8 935.3 L1769.5 937.3 L1772.2 939.9 L1774.8 942.7 L1777.5 944.4 L1780.2 946.3 L1782.9 949.4 L1785.6 951.5 L1788.3 954.2 L1791.0 956.5 L1793.7 958.7 L1796.4 960.3 L1799.2 963.6 L1802.1 965.8 L1804.9 968.7 L1807.8 971.7 L1810.6 975.3 L1813.5 977.4 L1816.4 978.2 L1819.3 980.3 L1822.2 982.3 L1825.2 984.2 L1827.9 987.2 L1830.4 990.4 L1832.9 993.3 L1835.4 996.8 L1838.3 999.8 L1841.1 1001.6 L1843.8 1004.3 L1846.5 1006.0 L1849.4 1007.3 L1852.2 1009.9 L1855.0 1011.5 L1857.8 1011.7 L1860.5 1012.4 L1863.5 1014.0 L1866.5 1014.4 L1869.5 1014.8 L1872.5 1016.1 L1875.5 1015.4 L1878.5 1015.8 L1881.5 1013.9 L1884.5 1015.1 L1887.3 1013.4 L1890.1 1010.1 L1892.9 1007.9 L1896.0 1007.7 L1899.0 1007.4 L1902.0 1004.6 L1904.9 1004.9 L1907.7 1001.8 L1910.4 1000.4 L1913.2 998.0 L1915.9 995.1 L1918.7 992.8 L1921.1 990.1 L1922.9 986.9 L1924.7 984.1 L1926.5 980.8 L1929.0 977.5 L1931.6 975.2 L1934.2 971.9 L1936.9 969.3 L1939.6 967.0 L1942.4 964.3 L1943.9 960.9 L1945.4 957.8 L1946.9 954.3 L1948.4 951.2 L1950.1 948.0 L1952.3 944.9 L1954.5 941.5 L1956.7 938.2 L1959.3 935.3 L1961.9 932.3 L1964.5 928.9 L1966.1 925.6 L1967.7 922.5 L1969.3 919.4 L1970.9 916.0 L1972.6 912.9 L1975.0 909.4 L1977.4 906.8 L1979.8 903.9 L1982.4 900.2 L1985.0 896.9 L1987.7 893.9 L1990.3 891.1 L1992.9 887.9 L1995.5 887.1 L1998.5 884.5 L2001.5 884.6 L2004.5 882.6 L2007.4 881.7 L2010.5 880.8 L2013.5 879.6 L2016.5 879.6 L2019.5 880.9 L2022.5 881.4 L2025.5 881.7 L2028.5 879.0 L2031.5 878.7 L2034.5 878.4 L2037.5 878.2 L2040.3 879.6 L2043.1 881.9 L2045.9 882.9 L2048.6 882.8 L2051.5 880.1 L2054.3 877.3 L2057.1 876.2 L2059.8 879.2 L2062.5 879.6 L2065.5 880.2 L2068.5 881.0 L2071.5 880.2 L2074.5 879.8 L2077.5 881.5 L2080.5 881.6 L2083.5 880.2 L2086.5 880.9 L2089.5 882.3 L2092.5 881.6 L2095.5 881.5 L2098.5 881.5 L2101.5 884.3 L2104.4 883.1 L2107.2 881.0 L2110.1 880.3 L2113.0 879.7 L2116.0 879.6 L2119.0 881.9 L2122.0 881.6 L2125.0 881.1 L2128.0 881.0 L2131.0 882.4 L2134.0 882.1 L2137.0 883.1 L2140.0 882.8 L2143.0 882.5 L2146.0 881.3 L2149.0 881.2 L2152.0 881.6 L2155.0 881.4 L2158.0 882.8 L2161.0 881.8 L2164.1 882.0 L2167.1 882.9 L2170.1 880.9 L2173.1 881.5 L2176.1 880.4 L2179.1 881.9 L2182.1 879.8 L2185.2 881.8 L2188.2 881.8 L2191.2 881.6 L2192.2 879.7" stroke="#0000ff" stroke-width="8.3"/>
</g>

<defs>
<clipPath id="cx"><rect x="800" y="1590" width="800" height="92"/></clipPath>
<clipPath id="cl"><rect x="1222" y="220" width="280" height="172.5"/></clipPath>
</defs>
<g class="b" font-size="46.2" stroke="#fff" stroke-width="0.9">
<text transform="translate(871.2 296.4) scale(0.98 1)">O-H</text>
<text transform="translate(1842.7 567.6) scale(0.98 1)">O-H</text>
<text transform="translate(329.6 833.2) scale(0.966 1)">O-Sn-O</text>
<text transform="translate(260.7 1473.6) scale(0.972 1)">Ce-O</text>
</g>
<rect x="1222.5" y="220.3" width="279" height="172" fill="none" stroke="#000" stroke-width="1.6"/>
<path d="M1227 264.3 H1393.8" stroke="#ff0000" stroke-width="6.5"/>
<path d="M1227 351.5 H1393.8" stroke="#0000ff" stroke-width="9"/>
<g font-size="71" clip-path="url(#cl)">
<text transform="translate(1407.8 288.7) scale(1.058 1)">(b)</text>
<text transform="translate(1407.8 375.2) scale(1.058 1)">(a)</text>
</g>
<g clip-path="url(#cx)"><text class="b" font-size="69.4" x="871.4" y="1677.3">Wavenumber(cm<tspan font-size="42.7" x="1431.2" y="1639.3" textLength="35" lengthAdjust="spacingAndGlyphs">-1</tspan><tspan x="1471" y="1677.3">)</tspan></text></g>
<text class="b" transform="translate(70 1105.5) rotate(-90) scale(0.969 1)" font-size="72.7">Transmittance(%)</text>

<g fill="#fff" stroke="none"><path d="M123.49 1343.19H134.00V1351.71H123.49ZM141.65 1343.19H151.37V1351.71H141.65Z"/><path d="M500.26 1577.53H510.83V1585.90H500.26ZM518.52 1577.53H528.30V1585.90H518.52Z"/><path d="M772.26 1577.53H782.83V1585.90H772.26ZM790.52 1577.53H800.30V1585.90H790.52Z"/><path d="M1446.08 1633.44H1453.50V1640.30H1446.08ZM1458.90 1633.44H1465.76V1640.30H1458.90Z"/></g>
</svg></body></html>
